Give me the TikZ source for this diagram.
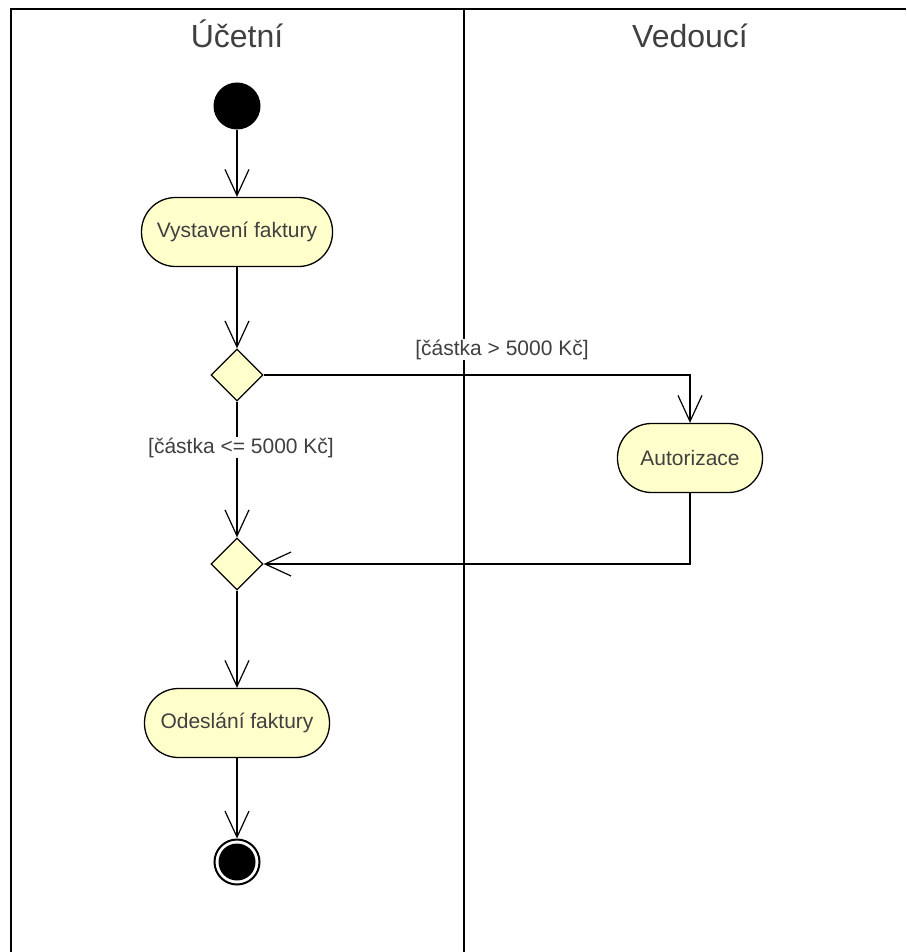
\documentclass[tikz,border=0pt]{standalone}
\usepackage{fontspec}
\setmainfont{Liberation Sans}
\usetikzlibrary{shapes.geometric,arrows.meta}
\definecolor{actfill}{HTML}{FFFFCC}
\definecolor{txtgray}{HTML}{404040}
\tikzset{
  act/.style={draw,line width=1.3pt,fill=actfill,rounded corners=34pt,minimum height=69pt,text=txtgray,font=\fontsize{21}{25}\selectfont},
  decide/.style={diamond,draw,line width=1.3pt,fill=actfill,inner sep=0pt,minimum width=52pt,minimum height=52pt},
  guard/.style={fill=white,inner sep=1pt,text=txtgray,font=\fontsize{21}{25}\selectfont,anchor=base},
  lane/.style={text=txtgray,font=\fontsize{32}{38}\selectfont,anchor=base},
  flow/.style={line width=1.2pt,-{Straight Barb[length=26pt,width=24pt]}}
}
\begin{document}
\begin{tikzpicture}[x=1pt,y=-1pt]
			\useasboundingbox (0,0) rectangle (906,952);
			% swimlanes
			\draw[line width=2.5pt](11,952)--(11,9)--(906,9);
			\draw[line width=2.5pt](464,9)--(464,952);
			\node[lane] (ucetni) at (237,48) {Účetní};
			\node[lane] (vedouci) at (690,48) {Vedoucí};
			% nodes
			\node[circle,fill=black,minimum size=47pt,inner sep=0pt] (start) at (237,106) {};
			\node[act,minimum width=191pt] (vystaveni) at (237,232) {Vystavení faktury};
			\node[decide] (d1) at (237,375) {};
			\node[act,minimum width=145pt] (autorizace) at (690,458) {Autorizace};
			\node[decide] (d2) at (237,564) {};
			\node[act,minimum width=185pt] (odeslani) at (237,723) {Odeslání faktury};
			\node[circle,draw,line width=2pt,minimum size=45pt,inner sep=0pt] (end) at (237,862) {};
			\node[circle,fill=black,minimum size=37pt,inner sep=0pt] (enddot) at (end) {};
			% flows
			\draw[flow](start)--(vystaveni);
			\draw[flow](vystaveni)--(d1);
			\draw[flow](d1.east)-|(autorizace.north);
			\draw[flow](d1)--(d2);
			\draw[flow](autorizace.south)|-(d2.east);
			\draw[flow](d2)--(odeslani);
			\draw[flow](odeslani)--(end);
			% guards
			\node[guard] (vic) at (502,355) {[částka > 5000 Kč]};
			\node[guard] (min) at (241,453) {[částka <= 5000 Kč]};
		\end{tikzpicture}
\end{document}
